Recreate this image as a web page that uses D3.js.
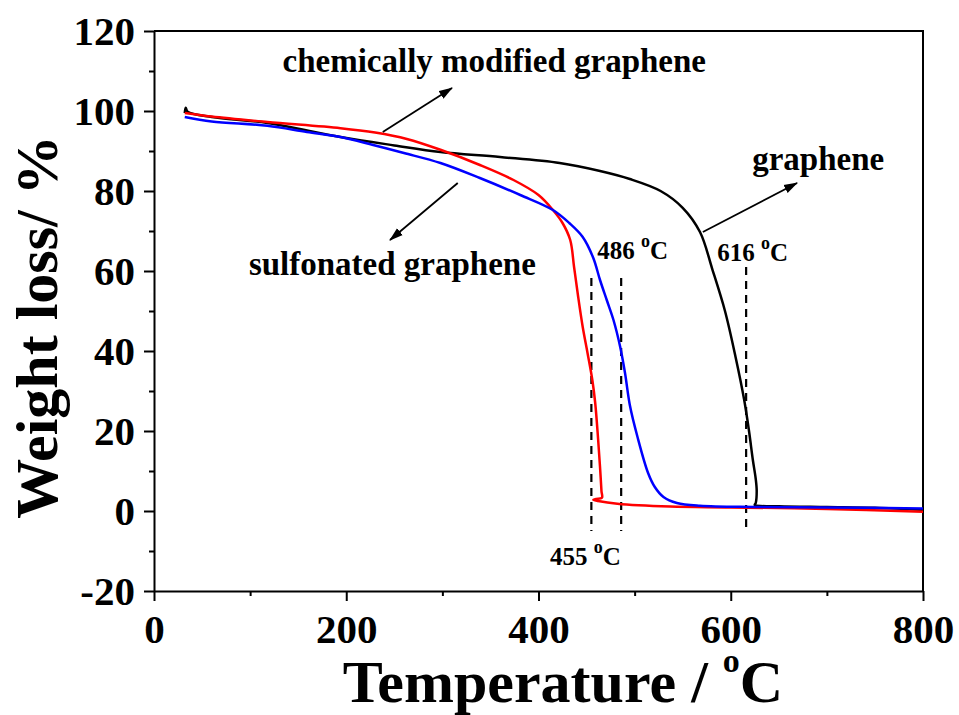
<!DOCTYPE html>
<html>
<head>
<meta charset="utf-8">
<script src="https://cdn.jsdelivr.net/npm/d3@7"></script>
<style>
  body { margin: 0; background: #fff; }
  svg text { font-family: "Liberation Serif", "Times New Roman", serif; font-weight: bold; fill: #000; }
</style>
</head>
<body>
<div id="chart"></div>
<script>
// TGA curves: [temperature in °C, weight in %]
const graphene = [
  [32, 99.5], [33, 100.8], [35, 99.8], [60, 98.5], [118, 97], [194, 93.5], [250, 91.4],
  [298, 89.75], [360, 88.5], [422, 87], [464, 85], [495, 83], [527, 80], [550, 75.8],
  [568, 69.75], [581, 60.3], [594, 50], [605, 38.5], [614, 27.75], [619, 20], [623, 12.75],
  [626, 8], [627, 5], [626, 2], [625, 1.5], [650, 1.2], [700, 1], [750, 0.8], [800, 0.3]
];
const chemModified = [
  [32, 99.5], [60, 98.6], [118, 97.25], [194, 95.7], [230, 94.6], [263, 93], [298, 90.3],
  [339, 86.5], [374, 82.75], [400, 79], [415, 75.25], [425, 72], [433, 67.75], [437, 61],
  [441, 54], [446, 46], [451, 39.5], [456, 32.75], [459, 27], [462, 18], [464, 11],
  [465.5, 5], [466, 3.3], [460, 3], [457, 2.8], [462, 2.5], [482, 1.8], [537, 1.1],
  [600, 0.9], [700, 0.5], [800, -0.2]
];
const sulfonated = [
  [32, 98.5], [60, 97.4], [118, 96.3], [159, 94.75], [194, 93.5], [228, 91.5], [260, 89.5],
  [298, 87], [339, 83.25], [381, 79], [415, 75.25], [432, 72], [446, 68.5], [457, 63.25],
  [464, 57.75], [471, 52.75], [478, 47.75], [485, 41], [490, 34.5], [495, 26.5], [503, 18.5],
  [514, 9.5], [521, 6], [530, 3.5], [544, 2], [568, 1.3], [625, 1], [700, 0.9], [800, 0.6]
];
const onsetTemps = [455, 486, 616];
const xTicks = [0, 200, 400, 600, 800];
const xMinor = [100, 300, 500, 700];
const yTicks = [-20, 0, 20, 40, 60, 80, 100, 120];
const yMinor = [-10, 10, 30, 50, 70, 90, 110];

const width = 959, height = 715;
const margin = { top: 31, right: 36, bottom: 124, left: 154 };

const svg = d3.select('#chart').append('svg')
  .attr('width', width)
  .attr('height', height);

const x = d3.scaleLinear().domain([0, 800]).range([margin.left, width - margin.right]);
const y = d3.scaleLinear().domain([-20, 120]).range([height - margin.bottom, margin.top]);

svg.append('defs').append('marker')
  .attr('id', 'arrow')
  .attr('viewBox', '0 -5 14 10')
  .attr('refX', 13).attr('refY', 0)
  .attr('markerUnits', 'userSpaceOnUse')
  .attr('markerWidth', 14).attr('markerHeight', 10)
  .attr('orient', 'auto')
  .append('path').attr('d', 'M0,-4.5L14,0L0,4.5Z').attr('fill', '#000');

// Axes
svg.append('g')
  .attr('transform', `translate(0,${y(-20)})`)
  .call(d3.axisBottom(x).tickValues(xTicks).tickSize(10).tickSizeOuter(0).tickPadding(13)
    .tickFormat(d => String(d)));
svg.append('g')
  .attr('transform', `translate(0,${y(-20)})`)
  .call(d3.axisBottom(x).tickValues(xMinor).tickSize(5).tickFormat(''))
  .select('.domain').remove();

svg.append('g')
  .attr('transform', `translate(${x(0)},0)`)
  .call(d3.axisLeft(y).tickValues(yTicks).tickSize(10).tickSizeOuter(0).tickPadding(9)
    .tickFormat(d => String(d)));
svg.append('g')
  .attr('transform', `translate(${x(0)},0)`)
  .call(d3.axisLeft(y).tickValues(yMinor).tickSize(5).tickFormat(''))
  .select('.domain').remove();

svg.selectAll('.domain, .tick line').attr('stroke', '#000').attr('stroke-width', 2);
svg.selectAll('.tick text').style('font-size', '41px');

// Box on top and right
svg.append('path')
  .attr('d', `M${x(0)},${y(120)}H${x(800)}V${y(-20)}`)
  .attr('fill', 'none').attr('stroke', '#000').attr('stroke-width', 2);

// Axis titles
const xTitle = svg.append('text')
  .attr('x', 563).attr('y', height - 13)
  .attr('text-anchor', 'middle')
  .style('font-size', '60px');
xTitle.append('tspan').text('Temperature / ');
xTitle.append('tspan').text('o').style('font-size', '34px').attr('dy', -30);
xTitle.append('tspan').text('C').attr('dy', 30);

svg.append('text')
  .attr('transform', `translate(57,327) rotate(-90)`)
  .attr('text-anchor', 'middle')
  .style('font-size', '60px')
  .text('Weight loss/ %');

// Onset markers
svg.selectAll('.onset')
  .data(onsetTemps)
  .join('line')
  .attr('class', 'onset')
  .attr('x1', d => x(d)).attr('x2', d => x(d))
  .attr('y1', d => y(d === 616 ? 61 : 58.25)).attr('y2', y(-5))
  .attr('stroke', '#000').attr('stroke-width', 2.2)
  .attr('stroke-dasharray', '8,6');

// Curves
const line = d3.line()
  .x(d => x(d[0]))
  .y(d => y(d[1]))
  .curve(d3.curveCatmullRom.alpha(0.5));

[[graphene, '#000000'], [chemModified, '#ff0000'], [sulfonated, '#0000ff']].forEach(([data, color]) => {
  svg.append('path')
    .datum(data)
    .attr('d', line)
    .attr('fill', 'none')
    .attr('stroke', color)
    .attr('stroke-width', 2.5)
    .attr('stroke-linejoin', 'round');
});

// Annotations (positions in data units)
const labels = [
  { t: 354, w: 109.75, text: 'chemically modified graphene' },
  { t: 248, w: 59, text: 'sulfonated graphene' },
  { t: 691, w: 85.25, text: 'graphene' },
];
labels.forEach(l => {
  svg.append('text')
    .attr('x', x(l.t)).attr('y', y(l.w))
    .attr('text-anchor', 'middle')
    .style('font-size', '33px')
    .text(l.text);
});

const arrows = [
  [[238, 94.75], [310, 105.75]],
  [[316, 82], [245.5, 67.75]],
  [[571, 69.75], [669, 82]],
];
arrows.forEach(([a, b]) => {
  svg.append('line')
    .attr('x1', x(a[0])).attr('y1', y(a[1]))
    .attr('x2', x(b[0])).attr('y2', y(b[1]))
    .attr('stroke', '#000').attr('stroke-width', 1.8)
    .attr('marker-end', 'url(#arrow)');
});

const tempLabels = [
  { t: 586, w: 62.5, text: '616' },
  { t: 461, w: 63, text: '486' },
  { t: 412, w: -13.5, text: '455' },
];
tempLabels.forEach(l => {
  const txt = svg.append('text')
    .attr('x', x(l.t)).attr('y', y(l.w))
    .style('font-size', '25px');
  txt.append('tspan').text(l.text + ' ');
  txt.append('tspan').text('o').style('font-size', '18px').attr('dy', -12);
  txt.append('tspan').text('C').attr('dy', 12);
});
</script>
</body>
</html>
